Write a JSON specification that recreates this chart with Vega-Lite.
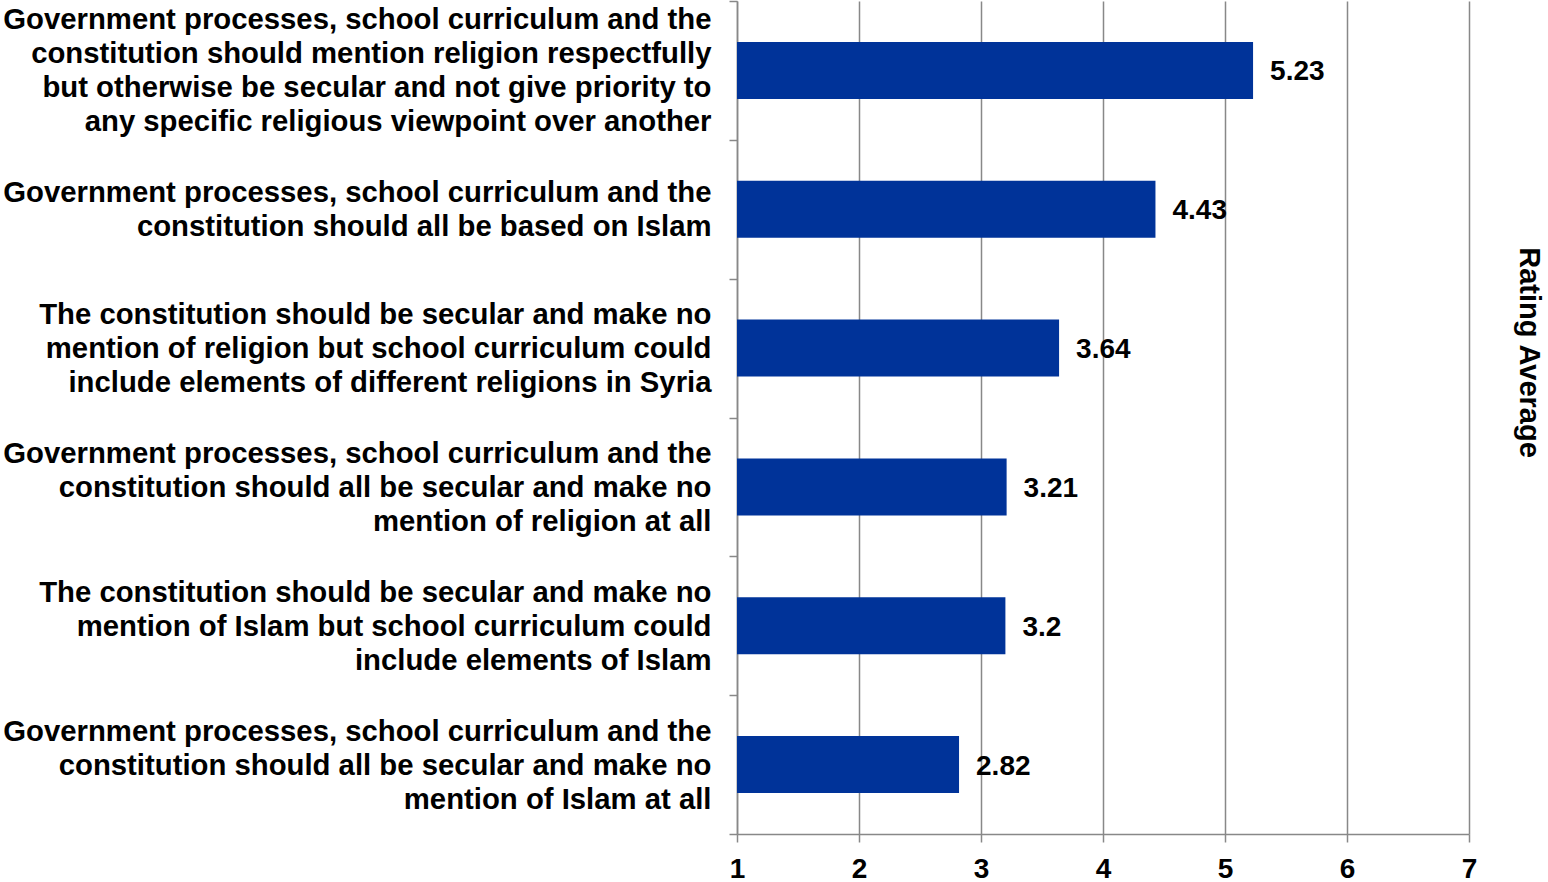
{
  "$schema": "https://vega.github.io/schema/vega-lite/v6.json",
  "autosize": {"type": "none"},
  "padding": {"left": 737, "top": 1, "right": 79, "bottom": 48},
  "width": 732,
  "height": 833,
  "background": "white",
  "config": {
    "view": {"stroke": null},
    "font": "Liberation Sans",
    "axis": {"labelFont": "Liberation Sans", "titleFont": "Liberation Sans"}
  },
  "data": {
    "values": [
      {"statement": "Government processes, school curriculum and the\nconstitution should mention religion respectfully\nbut otherwise be secular and not give priority to\nany specific religious viewpoint over another", "rating": 5.23},
      {"statement": "Government processes, school curriculum and the\nconstitution should all be based on Islam", "rating": 4.43},
      {"statement": "The constitution should be secular and make no\nmention of religion but school curriculum could\ninclude elements of different religions in Syria", "rating": 3.64},
      {"statement": "Government processes, school curriculum and the\nconstitution should all be secular and make no\nmention of religion at all", "rating": 3.21},
      {"statement": "The constitution should be secular and make no\nmention of Islam but school curriculum could\ninclude elements of Islam", "rating": 3.2},
      {"statement": "Government processes, school curriculum and the\nconstitution should all be secular and make no\nmention of Islam at all", "rating": 2.82}
    ]
  },
  "encoding": {
    "y": {
      "field": "statement",
      "type": "nominal",
      "sort": "-x",
      "scale": {"paddingInner": 0, "paddingOuter": 0}
    },
    "x": {
      "field": "rating",
      "type": "quantitative",
      "scale": {"domain": [1, 7], "nice": false, "zero": false},
      "axis": {
        "values": [1, 2, 3, 4, 5, 6, 7],
        "format": "d",
        "title": null,
        "grid": true,
        "gridColor": "#888888",
        "gridWidth": 1.5,
        "domainColor": "#888888",
        "domainWidth": 1.5,
        "tickColor": "#888888",
        "tickWidth": 1.5,
        "tickSize": 8,
        "labelFontSize": 28,
        "labelFontWeight": "bold",
        "labelColor": "black",
        "labelFlush": false,
        "labelPadding": 13
      }
    }
  },
  "layer": [
    {
      "mark": {"type": "bar", "opacity": 0, "height": {"band": 0.41}},
      "encoding": {
        "x2": {"datum": 1},
        "y": {
          "field": "statement",
          "type": "nominal",
          "sort": "-x",
          "axis": {
            "orient": "left",
            "title": null,
            "labels": false,
            "domain": false,
            "grid": false,
            "tickBand": "extent",
            "tickSize": 8,
            "tickColor": "#888888",
            "tickWidth": 1.5
          }
        }
      }
    },
    {
      "mark": {"type": "bar", "color": "#003399", "height": {"band": 0.41}},
      "encoding": {
        "x2": {"datum": 1},
        "y": {
          "field": "statement",
          "type": "nominal",
          "sort": "-x",
          "axis": {
            "orient": "left",
            "title": null,
            "labelExpr": "split(datum.value, '\\n')",
            "labelFontSize": 29.3,
            "labelFontWeight": "bold",
            "labelColor": "black",
            "labelLineHeight": 34,
            "labelLimit": 0,
            "labelPadding": 26,
            "labelOffset": {
              "condition": [
                {"test": "length(split(datum.value, '\\n')) == 4", "value": -50},
                {"test": "length(split(datum.value, '\\n')) == 2", "value": -16}
              ],
              "value": -33
            },
            "ticks": false,
            "domainColor": "#888888",
            "domainWidth": 1.5,
            "grid": false
          }
        }
      }
    },
    {
      "mark": {"type": "text", "align": "left", "baseline": "middle", "dx": 17, "dy": 2, "fontSize": 28, "fontWeight": "bold", "color": "black"},
      "encoding": {
        "text": {"field": "rating", "type": "quantitative"},
        "y": {
          "field": "statement",
          "type": "nominal",
          "sort": "-x",
          "axis": {
            "orient": "right",
            "labels": false,
            "ticks": false,
            "domain": false,
            "grid": false,
            "title": "Rating Average",
            "titleFontSize": 29,
            "titleFontWeight": "bold",
            "titleColor": "black",
            "titleAngle": 90,
            "titleAlign": "center",
            "titleBaseline": "middle",
            "titleX": 59,
            "titleY": 351
          }
        }
      }
    }
  ],
  "resolve": {"axis": {"y": "independent"}}
}
